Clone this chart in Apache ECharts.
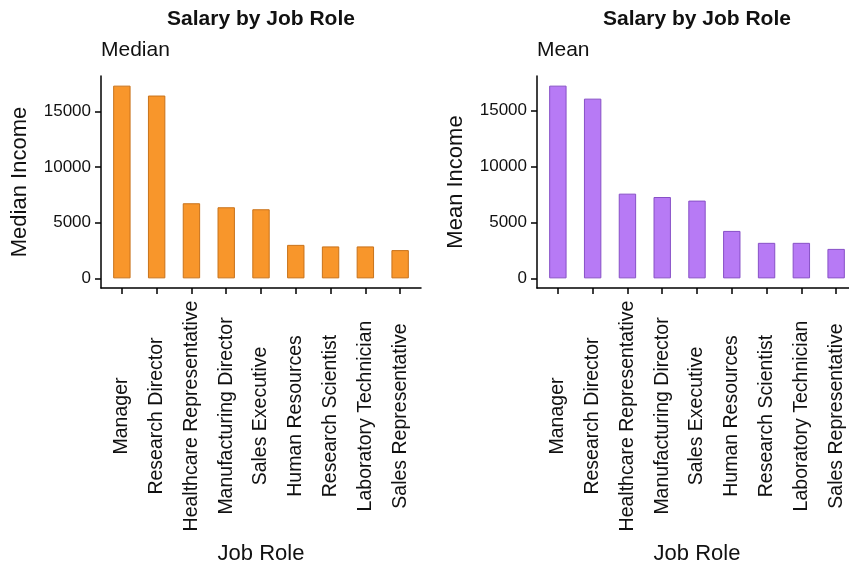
<!DOCTYPE html>
<html>
<head>
<meta charset="utf-8">
<script src="https://cdn.jsdelivr.net/npm/echarts@6/dist/echarts.min.js"></script>
<style>
  html, body { margin: 0; padding: 0; background: #fff; }
  #chart { width: 849px; height: 570px; }
</style>
</head>
<body>
<div id="chart"></div>
<script>
// job roles, in the order they are plotted
const roles = ['Manager', 'Research Director', 'Healthcare Representative', 'Manufacturing Director',
  'Sales Executive', 'Human Resources', 'Research Scientist', 'Laboratory Technician', 'Sales Representative']
const medianIncome = [17320, 16430, 6750, 6390, 6210, 3010, 2870, 2870, 2540]
const meanIncome = [17200, 16040, 7560, 7260, 6940, 4235, 3170, 3170, 2630]
const yTicks = [0, 5000, 10000, 15000]

const font = "'Liberation Sans', Arial, sans-serif"
const ink = '#111'
const roleIdx = roles.map((r, i) => i)

function panelTitles(x, sub) {
  return [
    {
      text: 'Salary by Job Role', left: x + 160, top: 9, textAlign: 'center', padding: 0,
      textStyle: { fontFamily: font, fontSize: 21, fontWeight: 'bold', color: ink }
    },
    {
      text: sub, left: x, top: 40, padding: 0,
      textStyle: { fontFamily: font, fontSize: 21, fontWeight: 'normal', color: ink }
    }
  ]
}

function xAxisFor(gridIndex) {
  return {
    type: 'value', gridIndex: gridIndex, min: -0.6, max: 8.6,
    name: 'Job Role', nameLocation: 'middle', nameGap: 255,
    nameTextStyle: { fontFamily: font, fontSize: 22, color: ink },
    splitLine: { show: false },
    axisLine: { show: true, onZero: false, lineStyle: { color: '#000', width: 1.5 } },
    axisTick: { show: true, length: 6, customValues: roleIdx, lineStyle: { color: '#000', width: 1.5 } },
    axisLabel: {
      customValues: roleIdx, rotate: 90, align: 'center', verticalAlign: 'middle', margin: 128,
      fontFamily: font, fontSize: 19.5, color: ink,
      formatter: (v) => roles[Math.round(v)]
    }
  }
}

function yAxisFor(gridIndex, name, data) {
  let top = Math.max(...data)
  return {
    type: 'value', gridIndex: gridIndex, min: -0.05 * top, max: 1.05 * top,
    name: name, nameLocation: 'middle', nameGap: 70,
    nameTextStyle: { fontFamily: font, fontSize: 22, color: ink },
    splitLine: { show: false },
    axisLine: { show: true, onZero: false, lineStyle: { color: '#000', width: 1.5 } },
    axisTick: { show: true, length: 6, customValues: yTicks, lineStyle: { color: '#000', width: 1.5 } },
    axisLabel: {
      customValues: yTicks, margin: 10, fontFamily: font, fontSize: 17, color: ink,
      formatter: (v) => String(Math.round(v))
    }
  }
}

let myChart = echarts.init(document.getElementById('chart'))

let options = {
  backgroundColor: '#fff',
  animation: false,
  title: [...panelTitles(101, 'Median'), ...panelTitles(537, 'Mean')],
  grid: [
    { left: 101, top: 76, width: 320, height: 212, outerBoundsMode: 'none' },
    { left: 537, top: 76, width: 320, height: 212, outerBoundsMode: 'none' }
  ],
  xAxis: [xAxisFor(0), xAxisFor(1)],
  yAxis: [yAxisFor(0, 'Median Income', medianIncome), yAxisFor(1, 'Mean Income', meanIncome)],
  series: [
    {
      name: 'Median', type: 'bar', xAxisIndex: 0, yAxisIndex: 0, barWidth: 17.4,
      itemStyle: { color: '#f8962b', borderColor: '#c8721a', borderWidth: 1 },
      data: medianIncome.map((v, i) => [i, v])
    },
    {
      name: 'Mean', type: 'bar', xAxisIndex: 1, yAxisIndex: 1, barWidth: 17.4,
      itemStyle: { color: '#b77af5', borderColor: '#8750c6', borderWidth: 1 },
      data: meanIncome.map((v, i) => [i, v])
    }
  ]
}
myChart.setOption(options)
</script>
</body>
</html>
